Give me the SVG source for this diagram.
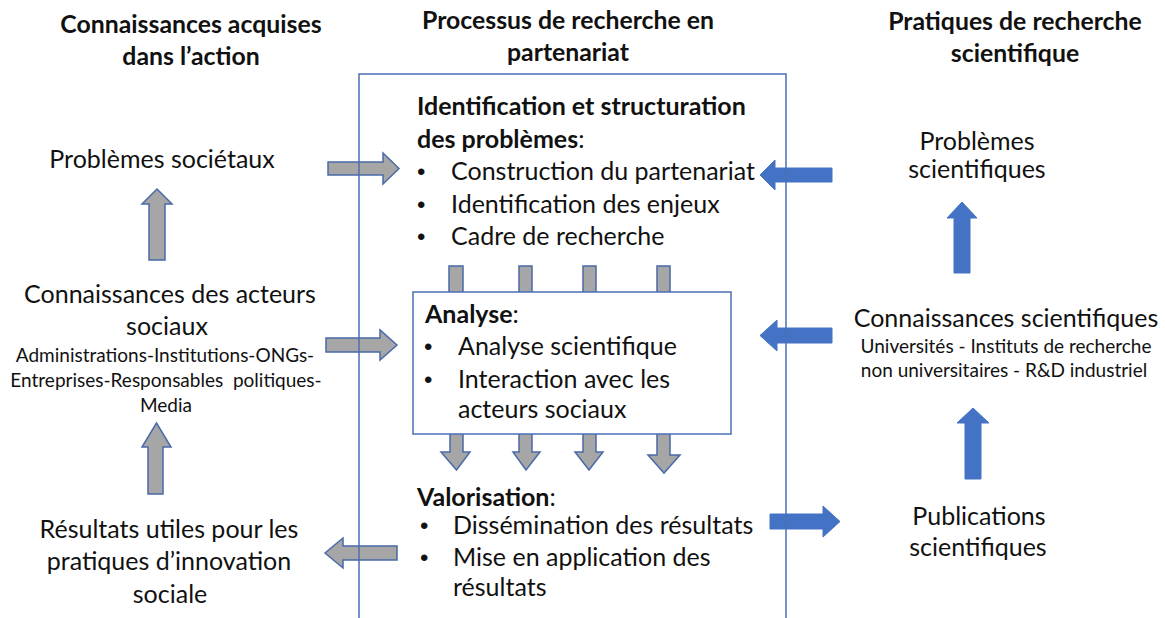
<svg xmlns="http://www.w3.org/2000/svg" width="1165" height="618" viewBox="0 0 1165 618">
  <style>
    .t { font-family: Lato, "Open Sans", sans-serif; font-size: 25px; fill: #111; }
    .b { font-weight: bold; }
    .dot { font-family: "Liberation Sans", Arial, sans-serif; font-size: 24px; fill: #111; }
    .h { font-family: Lato, "Open Sans", sans-serif; font-size: 24.8px; font-weight: bold; fill: #111; }
    .s { font-family: Lato, "Open Sans", sans-serif; font-size: 19px; fill: #111; }
    .m { text-anchor: middle; }
    .ga { fill: #a6a6a6; stroke: #4a6aa8; stroke-width: 1.5; stroke-linejoin: miter; }
    .ba { fill: #4472c4; stroke: #4472c4; stroke-width: 1; }
    .frame { fill: none; stroke: #4a6fb5; stroke-width: 1.5; }
    .inner { fill: #fff; stroke: #4a6fb5; stroke-width: 1.5; }
  </style>

  <!-- column headings -->
  <g id="heading-left">
    <text class="h m" x="191" y="33">Connaissances acquises</text>
    <text class="h m" x="191" y="65">dans l’action</text>
  </g>
  <g id="heading-center">
    <text class="h m" x="568" y="29">Processus de recherche en</text>
    <text class="h m" x="568" y="61">partenariat</text>
  </g>
  <g id="heading-right">
    <text class="h m" x="1015" y="30">Pratiques de recherche</text>
    <text class="h m" x="1015" y="62">scientifique</text>
  </g>

  <!-- connectors -->
  <g id="connectors">
    <!-- left column, upward -->
    <path class="ga" d="M149,260 V204 H142 L157,189 L172,204 H165 V260 Z"/>
    <path class="ga" d="M148,494 V447 H142 L156.5,423 L171,447 H163 V494 Z"/>
    <!-- left column into / out of the process -->
    <path class="ga" d="M328,162 H383 V153 L399,168.5 L383,184 V175 H328 Z"/>
    <path class="ga" d="M326,338 H380 V330 L397,345 L380,360 V352 H326 Z"/>
    <path class="ga" d="M397,546 H343 V538 L325,553 L343,568 V560 H397 Z"/>
    <!-- problem structuring into analysis -->
    <path class="ga" d="M449,266 H463 V320 H449 Z"/>
    <path class="ga" d="M519,266 H532 V320 H519 Z"/>
    <path class="ga" d="M583,266 H596 V320 H583 Z"/>
    <path class="ga" d="M657,266 H670 V320 H657 Z"/>
    <!-- analysis into valorisation -->
    <path class="ga" d="M450,430 H463 V452 H470 L456.5,470 L441,452 H450 Z"/>
    <path class="ga" d="M519,430 H532 V452 H540 L526,470 L513,452 H519 Z"/>
    <path class="ga" d="M583,430 H596 V452 H603 L589,470 L575,452 H583 Z"/>
    <path class="ga" d="M657,430 H670 V455 H680 L664,473 L648,455 H657 Z"/>
    <!-- right column into the process -->
    <path class="ba" d="M832,168 H775 V160 L760,175 L775,190 V182 H832 Z"/>
    <path class="ba" d="M832,328 H777 V320 L760,335.5 L777,351 V343 H832 Z"/>
    <!-- process out to publications -->
    <path class="ba" d="M770,514 H823 V506 L840,521.5 L823,537 V529 H770 Z"/>
    <!-- right column, upward -->
    <path class="ba" d="M954,273 V218 H947 L962,202 L977,218 H970 V273 Z"/>
    <path class="ba" d="M965,479 V423 H957 L973,408 L989,423 H981 V479 Z"/>
  </g>

  <!-- process frame (open at the bottom) -->
  <g id="process">
    <path class="frame" d="M359,630 V74 H786 V630"/>
  </g>

  <!-- left column nodes -->
  <g id="problemes-societaux">
    <text class="t m" x="162" y="168">Problèmes sociétaux</text>
  </g>
  <g id="connaissances-acteurs">
    <text class="t m" x="170" y="303">Connaissances des acteurs</text>
    <text class="t m" x="167" y="335">sociaux</text>
    <text class="s m" x="165" y="362">Administrations-Institutions-ONGs-</text>
    <text class="s m" x="166" y="387">Entreprises-Responsables&#160; politiques-</text>
    <text class="s m" x="166" y="412">Media</text>
  </g>
  <g id="resultats-utiles">
    <text class="t m" x="169" y="538">Résultats utiles pour les</text>
    <text class="t m" x="169" y="570">pratiques d’innovation</text>
    <text class="t m" x="170" y="603">sociale</text>
  </g>

  <!-- process stages -->
  <g id="identification">
    <text class="t b" x="417" y="115">Identification et structuration</text>
    <text class="t" x="417" y="148"><tspan class="b">des problèmes</tspan>:</text>
    <text class="dot" x="417" y="180">•</text>
    <text class="t" x="451" y="180">Construction du partenariat</text>
    <text class="dot" x="417" y="213">•</text>
    <text class="t" x="451" y="213">Identification des enjeux</text>
    <text class="dot" x="417" y="245">•</text>
    <text class="t" x="451" y="245">Cadre de recherche</text>
  </g>
  <g id="analyse">
    <rect class="inner" x="413" y="292" width="318" height="142"/>
    <text class="t" x="425" y="323"><tspan class="b">Analyse</tspan>:</text>
    <text class="dot" x="424" y="355">•</text>
    <text class="t" x="458" y="355">Analyse scientifique</text>
    <text class="dot" x="424" y="388">•</text>
    <text class="t" x="458" y="388">Interaction avec les</text>
    <text class="t" x="458" y="418">acteurs sociaux</text>
  </g>
  <g id="valorisation">
    <text class="t" x="417" y="506"><tspan class="b">Valorisation</tspan>:</text>
    <text class="dot" x="420" y="534">•</text>
    <text class="t" x="453" y="534">Dissémination des résultats</text>
    <text class="dot" x="420" y="566">•</text>
    <text class="t" x="453" y="566">Mise en application des</text>
    <text class="t" x="453" y="596">résultats</text>
  </g>

  <!-- right column nodes -->
  <g id="problemes-scientifiques">
    <text class="t m" x="977" y="150">Problèmes</text>
    <text class="t m" x="977" y="178">scientifiques</text>
  </g>
  <g id="connaissances-scientifiques">
    <text class="t m" x="1006" y="327">Connaissances scientifiques</text>
    <text class="s m" x="1006" y="353">Universités - Instituts de recherche</text>
    <text class="s m" x="1004" y="377">non universitaires - R&amp;D industriel</text>
  </g>
  <g id="publications">
    <text class="t m" x="979" y="525">Publications</text>
    <text class="t m" x="978" y="556">scientifiques</text>
  </g>
</svg>
